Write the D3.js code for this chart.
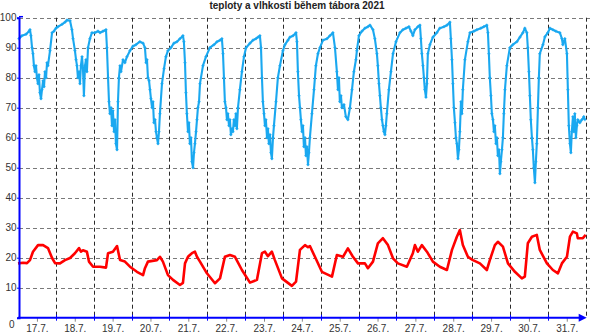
<!DOCTYPE html>
<html><head><meta charset="utf-8">
<script src="https://cdn.jsdelivr.net/npm/d3@7"></script>
<style>body{margin:0;background:#fff}svg{display:block}text{font-family:"Liberation Sans",Arial,sans-serif}</style>
</head><body><svg id="c" width="590" height="333"></svg>
<script>
const title = "teploty a vlhkosti během tábora 2021";
const dayLabels = ["17.7.","18.7.","19.7.","20.7.","21.7.","22.7.","23.7.","24.7.","25.7.","26.7.","27.7.","28.7.","29.7.","30.7.","31.7."];
const yTicks = [0,10,20,30,40,50,60,70,80,90,100];

// humidity (%) — hours since 17.7. 00:00
const humHours = [
0.6,2.5,5.1,7.0,7.6,8.2,8.9,9.5,10.1,10.8,
11.4,12.0,12.7,13.3,13.9,14.6,15.2,15.9,16.5,17.1,
17.8,18.4,19.0,20.3,21.6,22.8,24.1,25.4,27.9,29.8,
31.1,33.0,34.2,34.9,36.1,36.8,37.4,38.0,38.7,39.3,
39.9,40.6,41.2,41.8,42.5,43.1,43.7,44.4,45.6,46.9,
48.8,50.7,52.0,53.9,55.8,56.4,57.1,57.7,58.3,59.0,
59.6,60.2,60.9,61.5,62.1,62.8,63.4,64.0,64.7,65.3,
66.6,67.8,69.1,71.0,72.9,74.8,77.3,79.3,80.5,81.2,
81.8,82.4,83.1,83.7,84.3,85.0,85.6,86.2,86.9,87.5,
88.1,88.8,89.4,90.0,91.3,92.6,93.8,95.1,97.0,98.9,
100.8,102.7,104.6,105.2,105.9,106.5,107.1,107.8,108.4,109.0,
109.7,110.3,111.0,111.6,112.2,112.9,113.5,114.1,114.8,115.4,
117.3,119.2,121.7,124.3,126.2,128.1,129.3,130.0,130.6,131.2,
131.9,132.5,133.1,133.8,134.4,135.0,135.7,136.3,136.9,137.6,
138.2,138.8,139.5,140.7,142.0,143.3,144.6,147.1,149.0,150.9,
152.2,153.4,154.1,154.7,155.3,156.0,156.6,157.2,157.9,158.5,
159.1,159.8,160.4,161.0,161.7,162.3,163.6,164.8,166.1,168.0,
169.3,171.2,172.4,174.4,176.3,176.9,177.5,178.2,178.8,179.4,
180.1,180.7,181.3,182.0,182.6,183.2,183.9,184.5,185.1,186.4,
187.7,188.9,190.2,191.5,193.4,195.9,197.8,199.7,201.0,202.2,
202.9,203.5,204.1,204.8,205.4,206.7,207.9,209.2,210.5,211.8,
213.0,214.3,214.9,216.2,218.1,220.0,221.9,223.2,225.1,226.3,
227.6,228.2,228.9,229.5,230.1,230.8,231.4,232.0,232.7,233.3,
233.9,235.2,236.5,237.8,239.7,242.2,244.1,246.0,247.9,249.2,
250.4,251.7,253.6,254.9,255.5,256.1,256.8,257.4,258.0,258.7,
259.3,259.9,261.2,263.1,265.6,267.5,270.1,272.0,273.9,274.5,
275.2,275.8,276.4,277.1,277.7,278.3,279.0,279.6,280.2,280.9,
281.5,282.1,283.4,285.3,286.6,289.1,291.0,293.5,295.4,297.3,
298.0,298.6,299.2,299.9,300.5,301.2,301.8,302.4,303.1,303.7,
304.3,305.0,305.6,306.2,306.9,307.5,308.1,308.8,310.0,311.9,
313.8,316.4,318.3,320.2,321.4,322.7,323.3,324.0,324.6,325.2,
325.9,326.5,327.1,327.8,328.4,329.0,329.7,330.3,330.9,332.9,
334.1,336.0,337.3,339.2,341.1,343.6,344.9,345.5,346.8,348.1,
348.7,349.3,350.0,350.6,351.2,351.9,352.5,353.1,353.8,354.4,
355.0,356.3,357.6,358.8,359.5];
const humValues = [
93,94,94.5,95.5,96,94,90,88,84,82,
84,80,78,81,75,73,76,79,77,82,
80,85,84,89,95,95.5,96.5,97,97.8,98.5,
99.2,99,96,93,89,86,84,80,82,78,
84,87,83,74,84,86,82,90,93,95,
95,95.5,95,95.5,96,90,80,72,68,70,
64,69,62,66,58,56,72,80,84,82,
86,85,87,89,90.5,91,92,91.5,90,85,
86,80,79,76,73,70,72,65,66,62,
60,58,62,68,78,83,87,89,90,91.5,
92,93,94,92,85,75,68,62,65,58,
60,52,50,55,58,62,66,70,72,78,
84,87,90,91,92,92.5,93,88,80,72,
70,66,68,64,66,61,63,62,66,64,
68,63,70,76,82,87,90,91.5,92.5,93,
93.5,94,90,80,72,68,64,66,60,63,
58,61,55,53,60,64,72,80,84,89,
91,92.5,93.5,94,95,92,82,74,70,66,
62,64,57,60,54,57,51,55,60,68,
76,84,88,90,92.5,93,94,95,90,82,
76,80,72,74,70,71,67,66,70,76,
82,86,89,94,95.5,96.5,97,97.5,96,93,
88,84,78,74,70,66,64,62,61,64,
68,76,82,88,92,95,96,96.5,97,95.5,
94,96,97,97.5,93,88,84,80,76,73.5,
78,88,91,93.5,95,96.5,97,97.5,98.5,93,
86,78,70,65,60,58,53,56,62,72,
68,76,86,92,95,95.5,96,96.5,97,97.5,
95,88,80,74,68,66,62,64,58,60,
54,56,48,52,56,60,68,76,84,90,
91,92,93.5,95,96.5,95,90,82,74,66,
60,56,50,45,52,58,70,80,88,91,
93.6,95,96.5,96,95.5,95,93,91,93,88,
76,64,58,55,62,67,62,68,60,64,
66,65,66,67,66];

// temperature (°C) — hours since 17.7. 00:00
const tempHours = [
0,3.2,5.7,7.6,9.5,12.7,15.9,19.0,21.6,23.5,
26.6,29.8,33.0,36.1,38.7,39.9,41.2,43.7,45.0,47.6,
52.0,55.8,57.1,60.2,62.8,64.7,67.8,71.0,75.4,79.3,
80.5,82.4,88.1,90.0,91.9,95.1,98.3,102.7,104.6,105.9,
107.8,109.0,110.3,112.2,113.5,115.4,119.8,124.9,128.1,131.2,
134.4,137.6,142.0,147.1,151.5,154.7,156.6,158.5,161.0,162.9,
167.4,173.7,176.3,178.8,182.0,183.9,185.1,188.3,192.7,199.1,
202.2,206.1,209.2,212.4,215.6,220.0,221.9,225.1,228.2,231.4,
234.6,237.8,240.9,246.6,250.4,251.7,253.6,256.1,259.3,263.1,
267.5,272.0,275.2,278.3,280.2,282.1,285.3,288.5,292.9,297.3,
299.2,302.4,304.3,307.5,310.7,315.1,319.5,321.4,323.3,325.9,
329.0,330.9,335.4,339.2,342.4,344.9,348.1,350.0,351.9,354.4,
355.0,358.2,360.0];
const tempValues = [
18.1,18.3,18.2,19.2,22,24.2,24.2,23.2,19.9,18.2,
18.1,19.2,19.9,21.5,23.2,22,22.5,22,18.7,17,
17,16.7,21.5,22,23.9,19.2,18.7,17,15.3,14.2,
16.5,18.7,19.2,20.3,18.7,14.2,12.6,10.9,11.6,18.1,
20.3,20.9,21.5,22,20.3,18.7,14.8,11.5,13.1,20.3,
20.9,20.3,15.9,11.7,12.6,21.5,22,20.5,22,19.2,
13.1,10.6,12,22.6,24.2,23.5,23.9,20.3,15.3,13.7,
20.9,20.3,23.1,20.3,18.1,18.1,16.5,18.7,24.8,26.5,
24.2,19.8,18.1,17,21.5,24.2,22,24.2,22,18.7,
17,15.9,22.6,27,29.2,24.2,20.3,19.2,18.1,15.9,
19.2,24.2,25.3,23.7,18.1,15.3,13.1,13.7,24.8,27,
27.6,22.6,18.1,15.9,14.8,18.1,20.3,27,28.7,28.1,
26.5,26.5,27.6];

const svg = d3.select("#c");
const x = d3.scaleLinear().domain([0, 360]).range([18, 585.7]);
const y = d3.scaleLinear().domain([0, 100]).range([317.7, 17.7]);
const midnights = d3.range(1, 16).map(d => d * 24);
const centers = d3.range(0, 15).map(d => d * 24 + 12);

// grid
svg.append("g").selectAll("line").data(yTicks.filter(v => v > 0)).join("line")
  .attr("x1", 19).attr("x2", 590)
  .attr("y1", d => Math.round(y(d)) + 0.5).attr("y2", d => Math.round(y(d)) + 0.5)
  .attr("stroke", "#7a7a7a").attr("stroke-dasharray", "4,3");
svg.append("g").selectAll("line").data(midnights).join("line")
  .attr("x1", d => Math.round(x(d)) + 0.5).attr("x2", d => Math.round(x(d)) + 0.5)
  .attr("y1", y(100)).attr("y2", y(0))
  .attr("stroke", "#2a2a2a").attr("stroke-dasharray", "4,3");

// title
svg.append("text").attr("x", 297).attr("y", 9).attr("text-anchor", "middle")
  .attr("font-size", 10).attr("font-weight", "bold").attr("fill", "#222").text(title);

// series
const humData = humHours.map((h, i) => [h, humValues[i]]);
const tempData = tempHours.map((h, i) => [h, tempValues[i]]);
const line = d3.line().x(d => x(d[0])).y(d => y(d[1]));

svg.append("path").datum(tempData).attr("d", line)
  .attr("fill", "none").attr("stroke", "#ff0000").attr("stroke-width", 2.6).attr("stroke-linejoin", "round");

svg.append("path").datum(humData).attr("d", line)
  .attr("fill", "none").attr("stroke", "#1aa8f0").attr("stroke-width", 2.1).attr("stroke-linejoin", "round");
svg.append("g").selectAll("path").data(humData).join("path")
  .attr("d", d => `M${x(d[0]) - 1.5},${y(d[1])}h3M${x(d[0])},${y(d[1]) - 1.5}v3`)
  .attr("stroke", "#1aa8f0").attr("stroke-width", 1);

// y axis
const yAxis = svg.append("g").attr("transform", "translate(19,0)")
  .call(d3.axisLeft(y).tickValues(yTicks).tickSize(2).tickPadding(0.5).tickFormat(d3.format("d")));
yAxis.select(".domain").attr("stroke", "#0000ff").attr("stroke-width", 2);
yAxis.selectAll(".tick line").attr("stroke", "#0000ff");
yAxis.selectAll(".tick text").attr("font-size", 10).attr("fill", "#333")
  .attr("font-family", "Liberation Sans, Arial, sans-serif")
  .attr("dx", d => d === 0 ? -2 : 0)
  .attr("dy", d => d === 0 ? "0.95em" : "0.32em");

// x axis: blue line, midnight ticks, day labels at centers
const xAxis = svg.append("g").attr("transform", `translate(0,${y(0)})`)
  .call(d3.axisBottom(x).tickValues(centers).tickSize(4).tickPadding(3)
    .tickFormat((d, i) => dayLabels[i]));
xAxis.select(".domain").remove();
xAxis.selectAll(".tick line").attr("stroke", "#888");
xAxis.selectAll(".tick text").attr("font-size", 10).attr("fill", "#333")
  .attr("font-family", "Liberation Sans, Arial, sans-serif");

svg.append("line").attr("x1", 18).attr("x2", 583).attr("y1", y(0)).attr("y2", y(0))
  .attr("stroke", "#0000ff").attr("stroke-width", 2);
svg.append("g").selectAll("line").data(midnights.slice(0, 14)).join("line")
  .attr("x1", d => Math.round(x(d)) + 0.5).attr("x2", d => Math.round(x(d)) + 0.5)
  .attr("y1", y(0) - 3).attr("y2", y(0) + 3).attr("stroke", "#0000ff");
svg.append("path")
  .attr("d", `M${x(360) - 7},${y(0) - 4}L${x(360) + 1},${y(0)}L${x(360) - 7},${y(0) + 4}Z`)
  .attr("fill", "#0000ff");
svg.append("path")
  .attr("d", `M19,${y(100) - 1}L23,${y(100) - 1}`).attr("stroke", "#0000ff").attr("stroke-width", 1.5);
</script></body></html>
